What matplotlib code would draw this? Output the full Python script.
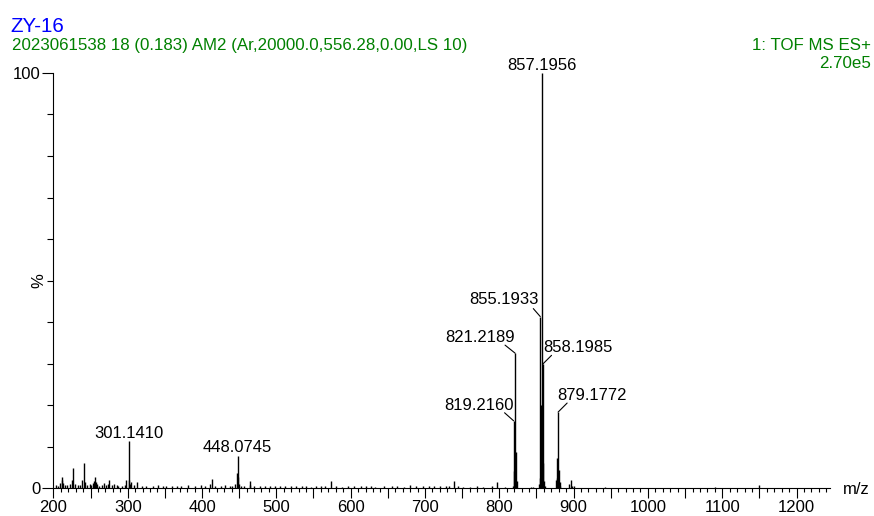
import matplotlib
matplotlib.use('Agg')
import matplotlib.pyplot as plt
from matplotlib.ticker import FixedLocator, MultipleLocator, FuncFormatter
import matplotlib.transforms as mtransforms

plt.rcParams['font.family'] = ['Liberation Sans', 'DejaVu Sans']

# ---------------- data ----------------
title = 'ZY-16'
subtitle = '2023061538 18 (0.183) AM2 (Ar,20000.0,556.28,0.00,LS 10)'
mode_text = '1: TOF MS ES+'
base_peak_text = '2.70e5'
x_label = 'm/z'
y_label = '%'

# labelled peaks (m/z, relative intensity %)
label_mz = [301.1410, 448.0745, 819.2160, 821.2189, 855.1933, 857.1956, 858.1985, 879.1772]
label_int = [11.3, 7.7, 16.2, 32.5, 41.3, 100.0, 29.8, 18.3]
label_txt = ['301.1410', '448.0745', '819.2160', '821.2189', '855.1933', '857.1956', '858.1985', '879.1772']

# unlabelled peaks
minor_mz = [203, 206, 209, 211, 212, 213, 216, 219, 222, 225, 227, 229, 233, 236, 239, 241, 242,
            245, 249, 251, 253, 255, 256, 257, 259, 262, 265, 268, 271, 273, 275, 279, 282, 285,
            287, 292, 296, 298, 302, 303, 305, 309, 313, 319, 325, 334, 341, 347, 352, 359, 366,
            372, 381, 391, 398, 404, 411, 414, 418, 425, 431, 437, 441, 445, 447, 449, 450, 452,
            457, 464, 465, 470, 478, 485, 491, 498, 505, 512, 520, 527, 535, 540, 547, 553, 560,
            566, 574, 580, 588, 597, 605, 614, 620, 628, 633, 645, 655, 663, 672, 680, 688, 697,
            705, 712, 720, 728, 733, 739, 744, 751, 760, 770, 778, 790, 797, 808, 818,
            820.2, 822.2, 823.2, 843, 845, 853.2, 854.2, 856.2, 859.2, 860.2, 861.2,
            876.2, 877.2, 878.2, 880.2, 881.2, 882.2, 894, 896, 897.5, 900, 942, 1090, 1149]
minor_int = [0.8, 0.6, 1.2, 2.7, 2.0, 1.2, 0.8, 0.7, 1.0, 2.0, 4.7, 1.0, 0.8, 0.7, 2.0, 6.1, 1.5,
             0.8, 1.0, 0.7, 1.2, 1.6, 2.6, 1.5, 1.0, 0.6, 0.8, 1.3, 0.8, 1.0, 2.0, 0.7, 1.0, 0.8,
             0.6, 0.5, 0.7, 1.9, 2.0, 1.0, 1.5, 0.7, 1.4, 0.5, 0.4, 0.4, 0.8, 0.5, 0.4, 0.6, 0.4,
             0.5, 0.8, 0.6, 0.7, 0.5, 1.0, 2.2, 0.5, 0.4, 0.8, 0.4, 0.6, 0.9, 3.5, 2.6, 1.0, 0.5,
             0.4, 0.8, 1.6, 0.5, 0.5, 0.4, 0.6, 0.4, 0.4, 0.5, 0.4, 0.5, 0.4, 0.5, 0.3, 0.4, 0.5,
             0.4, 1.6, 0.4, 0.3, 0.5, 0.4, 0.4, 0.5, 0.4, 0.3, 0.4, 0.5, 0.4, 0.3, 0.7, 0.4, 0.5,
             0.4, 0.4, 0.5, 0.4, 0.5, 1.7, 0.4, 0.3, 0.3, 0.4, 0.3, 0.5, 1.4, 0.3, 0.5,
             4.0, 8.7, 1.6, 0.3, 0.3, 1.0, 2.5, 20.0, 6.0, 1.8, 0.5,
             1.9, 7.2, 2.5, 4.3, 1.5, 0.6, 1.0, 1.9, 0.6, 0.4, 0.3, 0.3, 0.7]

x_ticks = [200, 300, 400, 500, 600, 700, 800, 900, 1000, 1100, 1200]
y_ticks = [0, 100]

# ---------------- layout ----------------
W, H, DPI = 874, 516, 100
# label text offset (pixels, from peak top) and leader-line start (None = no leader)
text_off = [(0, 3), (0, 4), (-35, 11), (-35, 11), (-36, 13), (0, 3), (35, 12), (34, 12)]
lead_off = [None, None, (-9, 8), (-10, 8), (-7, 8), None, (9, 9), (9, 9)]

BLUE = '#0000ff'
GREEN = '#008000'
FS = 12

fig = plt.figure(figsize=(W / DPI, H / DPI), dpi=DPI)
ax_left, ax_right, ax_top, ax_bottom = 53, 830, 73, 488
ax = fig.add_axes([ax_left / W, 1 - ax_bottom / H, (ax_right - ax_left) / W, (ax_bottom - ax_top) / H])

all_mz = label_mz + minor_mz
all_int = label_int + minor_int
ax.vlines(all_mz, 0, all_int, color='black', lw=1.0)

ax.set_xlim(199.5, 1245)
ax.set_ylim(0, 100)

for s in ['top', 'right']:
    ax.spines[s].set_visible(False)
for s in ['left', 'bottom']:
    ax.spines[s].set_linewidth(0.8)

# x ticks: major every 50 (labels only at 100s), minor every 10
ax.xaxis.set_major_locator(MultipleLocator(50))
ax.xaxis.set_major_formatter(FuncFormatter(lambda v, p: f'{int(round(v))}' if int(round(v)) in x_ticks else ''))
ax.xaxis.set_minor_locator(MultipleLocator(10))
ax.tick_params(axis='x', which='major', length=7, width=0.8, pad=2, labelsize=FS, direction='out')
ax.tick_params(axis='x', which='minor', length=3, width=0.8, direction='out')

ax.yaxis.set_major_locator(FixedLocator(y_ticks))
ax.set_yticklabels([str(v) for v in y_ticks])
ax.yaxis.set_minor_locator(MultipleLocator(10))
ax.tick_params(axis='y', which='major', length=8, width=0.8, pad=1, labelsize=FS, direction='out')
ax.tick_params(axis='y', which='minor', length=4, width=0.8, direction='out')

# "%" label
trans = mtransforms.blended_transform_factory(ax.transAxes, ax.transData)
ax.text(-14 / (ax_right - ax_left), 50, y_label, rotation=90, transform=trans,
        ha='center', va='center', fontsize=FS)

# m/z
ax.annotate(x_label, xy=(1, 0), xycoords='axes fraction', xytext=(13, -6),
            textcoords='offset pixels', ha='left', va='baseline', fontsize=FS)

# peak labels
for mz, it, txt, to, lo in zip(label_mz, label_int, label_txt, text_off, lead_off):
    ax.annotate(txt, xy=(mz, it), xytext=to, textcoords='offset pixels',
                ha='center', va='baseline', fontsize=FS, annotation_clip=False)
    if lo is not None:
        ax.annotate('', xy=(mz, it), xytext=lo, textcoords='offset pixels',
                    arrowprops=dict(arrowstyle='-', shrinkA=0, shrinkB=0, lw=0.8, color='black'))

# header
fig.text(10 / W, 1 - 32 / H, title, color=BLUE, fontsize=14.8, ha='left', va='baseline')
fig.text(12 / W, 1 - 50 / H, subtitle, color=GREEN, fontsize=12.2, ha='left', va='baseline')
fig.text(871 / W, 1 - 50.5 / H, mode_text, color=GREEN, fontsize=12.2, ha='right', va='baseline')
fig.text(871 / W, 1 - 67.5 / H, base_peak_text, color=GREEN, fontsize=12.2, ha='right', va='baseline')

fig.savefig('out.png', dpi=DPI)
